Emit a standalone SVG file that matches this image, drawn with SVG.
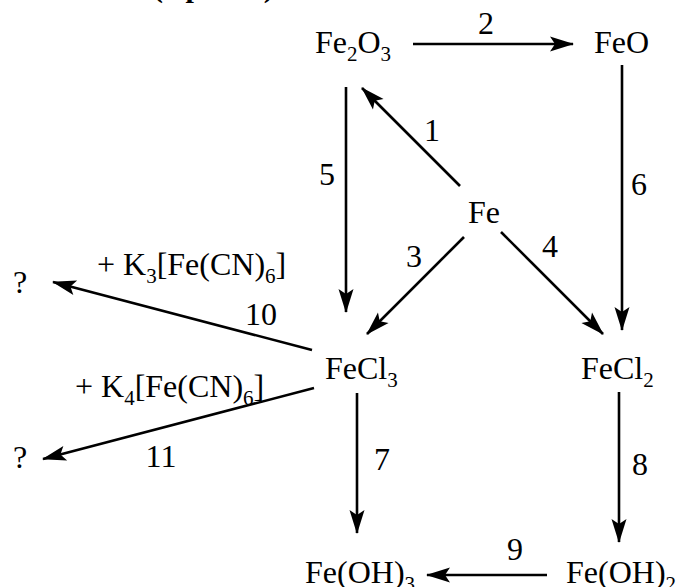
<svg xmlns="http://www.w3.org/2000/svg" width="678" height="587" viewBox="0 0 678 587">
<style>
text{font-family:"Liberation Serif","Times New Roman",serif;font-size:32px;fill:#000}
.lbl{text-anchor:middle}
.sub{font-size:21px}
.c line{stroke:#000;stroke-width:2.6;fill:none}
.h{font-weight:bold;font-size:30px}
</style>
<defs>
<marker id="ah" viewBox="-24 -8 26 16" refX="0" refY="0" markerWidth="26" markerHeight="16" markerUnits="userSpaceOnUse" orient="auto">
<path d="M1,0 L-23,-7.5 L-18,0 L-23,7.5 Z" fill="#000"/>
</marker>
</defs>
<rect width="678" height="587" fill="#fff"/>
<text class="h" x="153" y="-3">(3 points)</text>
<g id="n-fe2o3"><text x="315" y="53">Fe<tspan class="sub" dy="8">2</tspan><tspan dy="-8">O</tspan><tspan class="sub" dy="8">3</tspan></text></g>
<g id="n-feo"><text x="594" y="53">FeO</text></g>
<g id="n-fe"><text x="468" y="223">Fe</text></g>
<g id="n-fecl3"><text x="325" y="379">FeCl<tspan class="sub" dy="8">3</tspan></text></g>
<g id="n-fecl2"><text x="581" y="379">FeCl<tspan class="sub" dy="8">2</tspan></text></g>
<g id="n-feoh3"><text x="305" y="583">Fe(OH)<tspan class="sub" dy="8">3</tspan></text></g>
<g id="n-feoh2"><text x="566" y="583">Fe(OH)<tspan class="sub" dy="8">2</tspan></text></g>
<g id="n-q1"><text x="13" y="293">?</text></g>
<g id="n-q2"><text x="13" y="468">?</text></g>
<g id="connectors" class="c">
<line x1="460" y1="186" x2="362" y2="88" marker-end="url(#ah)"/>
<line x1="413" y1="44" x2="573" y2="44" marker-end="url(#ah)"/>
<line x1="464" y1="237" x2="367" y2="334" marker-end="url(#ah)"/>
<line x1="501" y1="232" x2="603" y2="334" marker-end="url(#ah)"/>
<line x1="346" y1="87" x2="346" y2="312" marker-end="url(#ah)"/>
<line x1="622" y1="65" x2="622" y2="330" marker-end="url(#ah)"/>
<line x1="357" y1="393" x2="357" y2="533" marker-end="url(#ah)"/>
<line x1="619" y1="392" x2="619" y2="542" marker-end="url(#ah)"/>
<line x1="547" y1="575" x2="427" y2="575" marker-end="url(#ah)"/>
<line x1="312" y1="350" x2="53" y2="282" marker-end="url(#ah)"/>
<line x1="314" y1="388" x2="43" y2="459" marker-end="url(#ah)"/>
</g>
<g id="labels">
<text class="lbl" x="432" y="141">1</text>
<text class="lbl" x="486" y="34">2</text>
<text class="lbl" x="414" y="267">3</text>
<text class="lbl" x="550" y="257">4</text>
<text class="lbl" x="327" y="185">5</text>
<text class="lbl" x="639" y="195">6</text>
<text class="lbl" x="382" y="470">7</text>
<text class="lbl" x="640" y="475">8</text>
<text class="lbl" x="515" y="560">9</text>
<text class="lbl" x="261" y="325">10</text>
<text class="lbl" x="161" y="467">11</text>
<text x="97" y="275">+ K<tspan class="sub" dy="8">3</tspan><tspan dy="-8">[Fe(CN)</tspan><tspan class="sub" dy="8">6</tspan><tspan dy="-8">]</tspan></text>
<text x="75" y="397">+ K<tspan class="sub" dy="8">4</tspan><tspan dy="-8">[Fe(CN)</tspan><tspan class="sub" dy="8">6</tspan><tspan dy="-8">]</tspan></text>
</g>
</svg>
